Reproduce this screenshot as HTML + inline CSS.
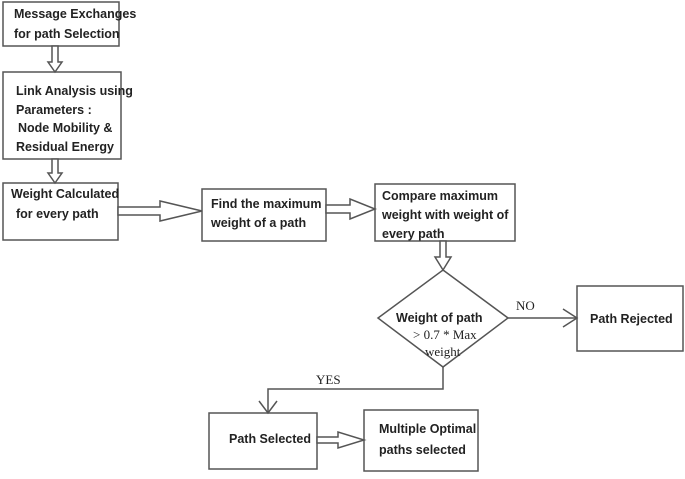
<!DOCTYPE html>
<html><head><meta charset="utf-8"><style>
html,body{margin:0;padding:0;background:#fff}
svg text{font-family:"Liberation Sans",sans-serif;font-size:12.5px;fill:#222;font-weight:bold}
.s{font-family:"Liberation Serif",serif!important;font-weight:normal!important;font-size:13px!important}
</style></head><body>
<svg width="685" height="474" viewBox="0 0 685 474" xmlns="http://www.w3.org/2000/svg">
<g fill="#fff" stroke="#555" stroke-width="1.5">
<rect x="3" y="2" width="116" height="44"/>
<rect x="3" y="72" width="118" height="87"/>
<rect x="3" y="183" width="115" height="57"/>
<rect x="202" y="189" width="124" height="52"/>
<rect x="375" y="184" width="140" height="57"/>
<polygon points="443,270 508,318 443,367 378,318"/>
<rect x="577" y="286" width="106" height="65"/>
<rect x="209" y="413" width="108" height="56"/>
<rect x="364" y="410" width="114" height="61"/>
<!-- hollow down arrows -->
<polygon points="52,46 58,46 58,62 62,62 55,72 48,62 52,62"/>
<polygon points="52,159 58,159 58,173 62,173 55,183 48,173 52,173"/>
<polygon points="440,241 446,241 446,257 451,257 443,270 435,257 440,257"/>
<!-- hollow right arrows -->
<polygon points="118,207 160,207 160,201 202,211 160,221 160,215 118,215"/>
<polygon points="326,205 350,205 350,199 375,209 350,219 350,213 326,213"/>
<polygon points="317,437 338,437 338,432 364,440 338,448 338,443 317,443"/>
</g>
<g stroke="#555" stroke-width="1.5" fill="none">
<line x1="508" y1="318" x2="577" y2="318"/>
<polyline points="563,309 577,318 563,327"/>
<polyline points="443,367 443,389 268,389 268,413"/>
<polyline points="259,401 268,413 277,401"/>
</g>
<text x="14" y="18">Message Exchanges</text>
<text x="14" y="38">for  path Selection</text>
<text x="16" y="95">Link Analysis using</text>
<text x="16" y="114">Parameters :</text>
<text x="18" y="132">Node Mobility &amp;</text>
<text x="16" y="151">Residual Energy</text>
<text x="11" y="198">Weight Calculated</text>
<text x="16" y="218">for every path</text>
<text x="211" y="208">Find the maximum</text>
<text x="211" y="227">weight of a path</text>
<text x="382" y="200">Compare maximum</text>
<text x="382" y="219">weight with weight of</text>
<text x="382" y="238">every path</text>
<text x="396" y="322">Weight of path</text>
<text class="s" x="413" y="339">&gt; 0.7 * Max</text>
<text class="s" x="425" y="356">weight</text>
<text class="s" x="516" y="310">NO</text>
<text x="590" y="323">Path Rejected</text>
<text class="s" x="316" y="384">YES</text>
<text x="229" y="443">Path Selected</text>
<text x="379" y="433">Multiple Optimal</text>
<text x="379" y="454">paths selected</text>
</svg>
</body></html>
